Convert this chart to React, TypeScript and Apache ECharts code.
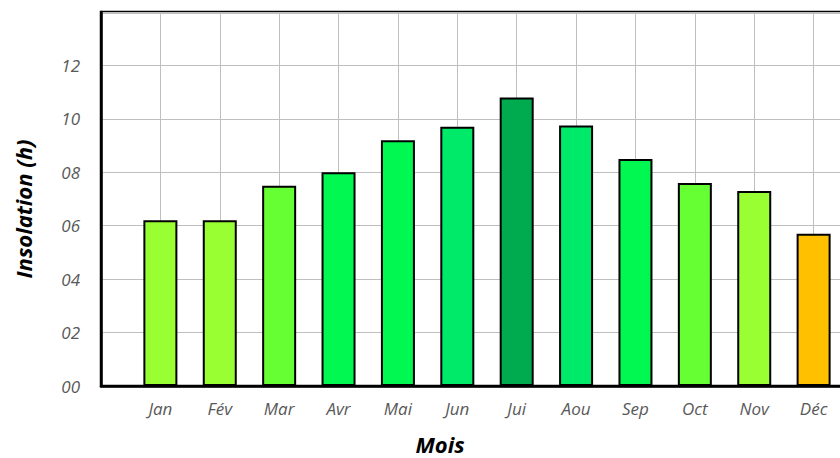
import React, { useEffect, useRef } from "react";
import * as echarts from "echarts";

const months = ["", "Jan", "Fév", "Mar", "Avr", "Mai", "Jun", "Jui", "Aou", "Sep", "Oct", "Nov", "Déc", ""];
const insolation = [6.2, 6.2, 7.5, 8.0, 9.2, 9.7, 10.8, 9.75, 8.5, 7.6, 7.3, 5.7];
const barColors = ["#99FF33", "#99FF33", "#66FF33", "#00F850", "#00F850", "#00EA6A", "#00AA4E", "#00EA6A", "#00F850", "#66FF33", "#99FF33", "#FFC000"];
const yTicks = ["00", "02", "04", "06", "08", "10", "12", ""];

const FONT = "'Open Sans', sans-serif";

export default function App() {
  const ref = useRef<HTMLDivElement>(null);
  useEffect(() => {
    if (!ref.current) return;
    const chart = echarts.init(ref.current, undefined, { renderer: "svg" });
    const data = [
      { value: "-", itemStyle: {} },
      ...insolation.map((v, i) => ({ value: v, itemStyle: { color: barColors[i] } })),
      { value: "-", itemStyle: {} },
    ];
    chart.setOption({
      animation: false,
      backgroundColor: "#ffffff",
      grid: {
        left: 101,
        right: 7,
        top: 12,
        bottom: 72,
        show: true,
        borderColor: "#000",
        borderWidth: 2.5,
        backgroundColor: "transparent",
      },
      xAxis: {
        type: "category",
        data: months,
        boundaryGap: false,
        axisLine: { show: true, lineStyle: { color: "#000", width: 2.5 } },
        axisTick: { show: false },
        splitLine: { show: true, lineStyle: { color: "#BFBFBF", width: 1 } },
        axisLabel: {
          color: "#595959",
          fontStyle: "italic",
          fontSize: 17,
          fontFamily: FONT,
          margin: 14,
        },
      },
      yAxis: {
        type: "value",
        min: 0,
        max: 14,
        interval: 2,
        axisLine: { show: true, lineStyle: { color: "#000", width: 2.5 } },
        axisTick: { show: false },
        splitLine: { show: true, lineStyle: { color: "#BFBFBF", width: 1 } },
        axisLabel: {
          color: "#595959",
          fontStyle: "italic",
          fontSize: 17,
          fontFamily: FONT,
          margin: 21,
          formatter: (v: number) => yTicks[Math.round(v / 2)] ?? "",
        },
      },
      graphic: [
        {
          type: "text",
          x: 23,
          y: 209,
          rotation: Math.PI / 2,
          style: {
            text: "Insolation (h)",
            fill: "#000",
            font: `italic bold 22px ${FONT}`,
            align: "center",
            verticalAlign: "middle",
          },
        },
        {
          type: "text",
          x: 440,
          y: 444,
          style: {
            text: "Mois",
            fill: "#000",
            font: `italic bold 22px ${FONT}`,
            align: "center",
            verticalAlign: "middle",
          },
        },
      ],
      series: [
        {
          type: "bar",
          data,
          barWidth: 34,
          itemStyle: { borderColor: "#000", borderWidth: 2 },
        },
      ],
    });
    return () => chart.dispose();
  }, []);
  return (
    <div style={{ position: "absolute", left: 0, top: 0, width: 840, height: 458, overflow: "hidden" }}>
      <div ref={ref} style={{ width: 880, height: 458 }} />
    </div>
  );
}
